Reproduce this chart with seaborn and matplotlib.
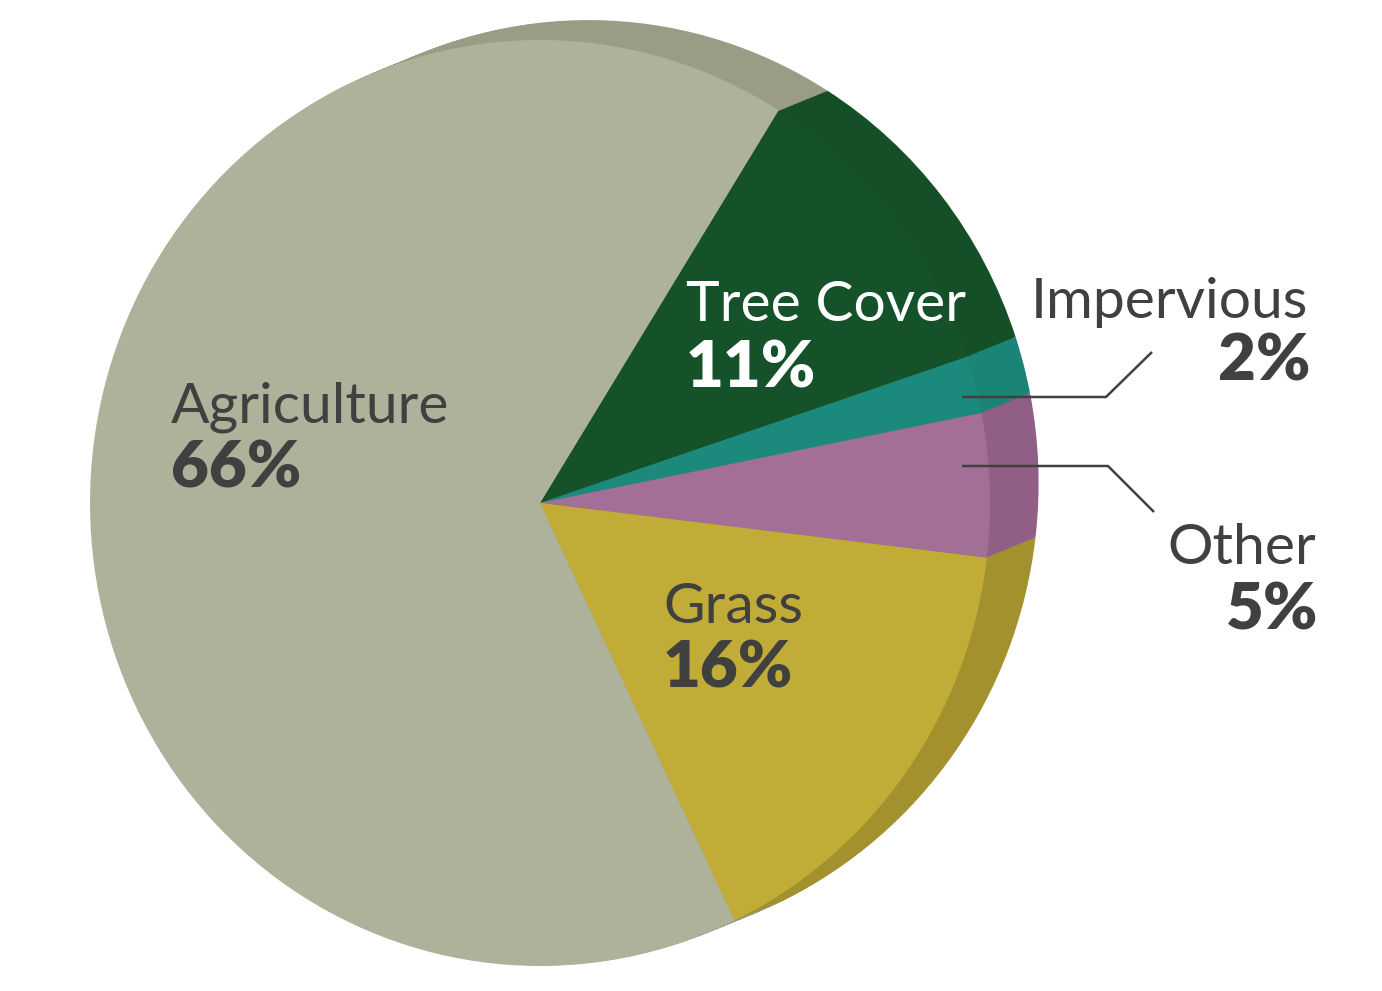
import numpy as np
import matplotlib
matplotlib.use("Agg")
import matplotlib.pyplot as plt
import seaborn as sns

# land cover shares, clockwise from the top-right edge of agriculture
labels = ["Tree Cover", "Impervious", "Other", "Grass", "Agriculture"]
shares = [11, 2, 5, 16, 66]
colors = ["#165229", "#1B8A7C", "#A46F97", "#C0AC36", "#AFB29B"]
rim_colors = ["#154F27", "#1A8477", "#915F86", "#A3912E", "#9A9C86"]

sns.set_theme(style="white")
plt.rcParams["font.family"] = ["Lato", "DejaVu Sans"]

dark = "#404040"

fig = plt.figure(figsize=(13.82, 9.91), dpi=100)
ax = fig.add_axes([0, 0, 1, 1])

# side of the "3d" disc: stacked copies shifted up/right
steps = 30
for k in range(steps, 0, -1):
    dx = 0.108 * k / steps
    dy = 0.043 * k / steps
    ax.pie(shares, colors=rim_colors, startangle=58, counterclock=False,
           center=(dx, dy), radius=1, wedgeprops=dict(linewidth=0))

# top face
ax.pie(shares, colors=colors, startangle=58, counterclock=False,
       center=(0, 0), radius=1, wedgeprops=dict(linewidth=0))

ax.set_aspect("auto")
ax.set_xlim(-540 / 450, (1382 - 540) / 450)
ax.set_ylim(-488 / 463, 503 / 463)
ax.axis("off")


def px(x, y):
    # pixel position in the picture -> data coords
    return (x - 540) / 450, (503 - y) / 463


name_size = 41
pct_size = 47

# Agriculture
ax.text(*px(171, 422), "Agriculture", fontsize=name_size, fontweight="normal", color=dark, ha="left", va="baseline")
ax.text(*px(171, 487), "66%", fontsize=pct_size, fontweight="heavy", color=dark, ha="left", va="baseline")
# Tree Cover
ax.text(*px(686, 321), "Tree Cover", fontsize=name_size, fontweight="normal", color="white", ha="left", va="baseline")
ax.text(*px(686, 387), "11%", fontsize=pct_size, fontweight="heavy", color="white", ha="left", va="baseline")
# Grass
ax.text(*px(663, 623), "Grass", fontsize=name_size, fontweight="normal", color=dark, ha="left", va="baseline")
ax.text(*px(663, 688), "16%", fontsize=pct_size, fontweight="heavy", color=dark, ha="left", va="baseline")
# Impervious
ax.text(*px(1308, 318), "Impervious", fontsize=name_size, fontweight="normal", color=dark, ha="right", va="baseline")
ax.text(*px(1310, 380), "2%", fontsize=pct_size, fontweight="heavy", color=dark, ha="right", va="baseline")
# Other
ax.text(*px(1316, 564), "Other", fontsize=name_size, fontweight="normal", color=dark, ha="right", va="baseline")
ax.text(*px(1318, 629), "5%", fontsize=pct_size, fontweight="heavy", color=dark, ha="right", va="baseline")

# leader lines
for pts in ([(962, 397), (1106, 397), (1152, 352)],
            [(962, 466), (1108, 466), (1154, 512)]):
    xy = np.array([px(x, y) for x, y in pts])
    ax.plot(xy[:, 0], xy[:, 1], color=dark, lw=1.8, solid_capstyle="butt")

fig.savefig("out.png", dpi=100, facecolor="white")
